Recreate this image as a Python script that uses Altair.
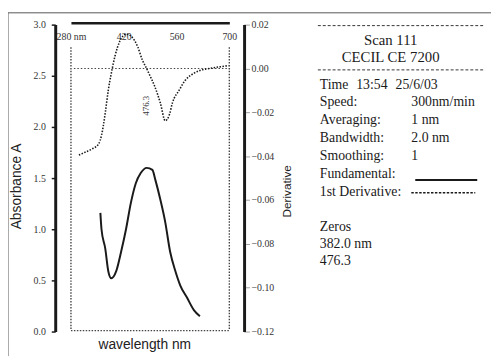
import altair as alt
import pandas as pd

# ---- data ----
wl_ticks = [280, 420, 560, 700]
abs_ticks = [0.0, 0.5, 1.0, 1.5, 2.0, 2.5, 3.0]
der_ticks = [-0.12, -0.10, -0.08, -0.06, -0.04, -0.02, 0.0, 0.02]

abs_nm = [358, 361, 371, 379, 387, 400, 413, 426, 439, 452, 465, 481, 496, 504,
          517, 530, 543, 557, 570, 588, 606, 622]
abs_a = [1.16, 1.00, 0.81, 0.59, 0.52, 0.59, 0.78, 1.00, 1.26, 1.45, 1.55, 1.60,
         1.58, 1.48, 1.29, 1.07, 0.78, 0.59, 0.45, 0.33, 0.21, 0.15]

der_nm = [301, 319, 335, 353, 361, 366, 371, 379, 387, 397, 410, 418, 426, 439,
          457, 470, 478, 489, 502, 517, 530, 541, 549, 567, 583, 606, 622, 648, 698]
der_d = [-0.0395, -0.0381, -0.0368, -0.0345, -0.0305, -0.0260, -0.0202, -0.0099,
         -0.0022, 0.0058, 0.0126, 0.0148, 0.0157, 0.0148, 0.0099, 0.0036, 0.0009,
         -0.0031, -0.0081, -0.0157, -0.0238, -0.0211, -0.0157, -0.0099, -0.0054,
         -0.0022, -0.0009, 0.0000, 0.0013]

peak_label = ["476.3"]
peak_nm = [478]
peak_d = [-0.017]

header_lines = ["Scan 111", "CECIL CE 7200"]
info_labels = ["Time", "Speed:", "Averaging:", "Bandwidth:", "Smoothing:",
               "Fundamental:", "1st Derivative:"]
info_values = ["", "300nm/min", "1 nm", "2.0 nm", "1", "", ""]
time_values = ["13:54", "25/6/03"]
zeros_lines = ["Zeros", "382.0 nm", "476.3"]

SERIF = "Liberation Serif"
SANS = "Liberation Sans"
INK = "#1a1a1a"

abs_df = pd.DataFrame({"nm": abs_nm, "A": abs_a})
der_df = pd.DataFrame({"nm": der_nm, "d": der_d})
peak_df = pd.DataFrame({"nm": peak_nm, "d": peak_d, "t": peak_label})
one = alt.Data(values=[{}])

x_enc = alt.X(
    "nm:Q",
    scale=alt.Scale(domain=[280, 700], nice=False, zero=False),
    axis=alt.Axis(
        orient="top", values=wl_ticks, offset=2, ticks=False, tickSize=0,
        labelPadding=-14, labelBaseline="middle", labelFlush=False, labelOverlap=False,
        labelExpr="datum.value == 280 ? '280 nm' : datum.label",
        labelFont=SERIF, labelFontSize=10, labelColor="#333",
        domainColor=INK, domainWidth=2.5, grid=False, title=None,
    ),
)

abs_scale = alt.Scale(domain=[0, 3], nice=False, zero=False)
der_scale = alt.Scale(domain=[-0.12, 0.02], nice=False, zero=False)

absorb = alt.Chart(abs_df).mark_line(color=INK, strokeWidth=2, interpolate="monotone").encode(
    x=x_enc,
    y=alt.Y("A:Q", scale=abs_scale, axis=alt.Axis(
        orient="left", values=abs_ticks, format=".1f", offset=16,
        domainColor=INK, domainWidth=3, tickColor=INK, tickSize=4, tickWidth=1.5,
        labelFont=SERIF, labelFontSize=10, labelColor="#333", labelPadding=6,
        grid=False, title="Absorbance A", titleFont=SANS, titleFontSize=14,
        titleFontWeight="normal", titleColor="#222", titleAngle=270,
        titleX=-39, titleY=164, titleAlign="center", titleBaseline="middle",
    )),
)

deriv = alt.Chart(der_df).mark_line(color=INK, strokeWidth=1.6, strokeDash=[1.5, 1.5],
                                    interpolate="monotone").encode(
    x=x_enc,
    y=alt.Y("d:Q", scale=der_scale, axis=alt.Axis(
        orient="right", values=der_ticks, format=".2f", offset=15,
        domainColor=INK, domainWidth=3, tickColor="#444", tickSize=6, tickWidth=1,
        tickDash=[1, 1], labelFont=SERIF, labelFontSize=10, labelColor="#333",
        labelPadding=1, grid=False, title="Derivative", titleFont=SANS,
        titleFontSize=12, titleFontWeight="normal", titleColor="#222", titleAngle=270,
        titleX=43, titleY=169, titleAlign="center", titleBaseline="middle",
    )),
)

zero_line = alt.Chart(one).mark_rule(color="#444", strokeWidth=1.2, strokeDash=[1.5, 2]).encode(
    x=alt.value(3), x2=alt.value(161),
    y=alt.YDatum(0, scale=der_scale, axis=None),
)

peak_text = alt.Chart(peak_df).mark_text(
    angle=270, font=SERIF, fontSize=9, color="#333", baseline="middle", align="center"
).encode(
    x=x_enc, y=alt.Y("d:Q", scale=der_scale, axis=None), text="t:N"
)

box_style = dict(color="#444", strokeWidth=1.4, strokeDash=[1.5, 1.5])
box_left = alt.Chart(one).mark_rule(**box_style).encode(
    x=alt.value(0), y=alt.value(23), y2=alt.value(311))
box_right = alt.Chart(one).mark_rule(**box_style).encode(
    x=alt.value(161), y=alt.value(23), y2=alt.value(311))
box_bottom = alt.Chart(one).mark_rule(**box_style).encode(
    x=alt.value(0), x2=alt.value(161), y=alt.value(311))

x_title = alt.Chart(one).mark_text(font=SANS, fontSize=14, color="#222",
                                   align="center", baseline="middle").encode(
    x=alt.value(75), y=alt.value(326), text=alt.value("wavelength nm"))

frame_top = alt.Chart(one).mark_rule(color="#555", strokeWidth=1).encode(
    x=alt.value(-64), x2=alt.value(427), y=alt.value(-12))
frame_left = alt.Chart(one).mark_rule(color="#555", strokeWidth=1).encode(
    x=alt.value(-64), y=alt.value(-12), y2=alt.value(337))

sep_style = dict(color="#333", strokeWidth=1, strokeDash=[3, 2])
sep1 = alt.Chart(one).mark_rule(**sep_style).encode(
    x=alt.value(251), x2=alt.value(421), y=alt.value(1))
sep2 = alt.Chart(one).mark_rule(**sep_style).encode(
    x=alt.value(251), x2=alt.value(421), y=alt.value(46))

header_df = pd.DataFrame({"t": header_lines, "row": range(len(header_lines))})
header = alt.Chart(header_df).mark_text(
    font=SERIF, fontSize=15, color=INK, align="center", baseline="middle"
).encode(
    x=alt.value(325), y=alt.Y("py:Q", scale=None, axis=None), text="t:N"
).transform_calculate(py="16 + datum.row * 17")

info_df = pd.DataFrame({"label": info_labels, "value": info_values,
                        "row": range(len(info_labels))})
txt = dict(font=SERIF, fontSize=14, color=INK, align="left", baseline="middle")
info_lab = alt.Chart(info_df).mark_text(**txt).encode(
    x=alt.value(253), y=alt.Y("py:Q", scale=None, axis=None), text="label:N"
).transform_calculate(py="61 + datum.row * 18.2")
info_val = alt.Chart(info_df).mark_text(**txt).encode(
    x=alt.value(346), y=alt.Y("py:Q", scale=None, axis=None), text="value:N"
).transform_filter("datum.value != ''").transform_calculate(py="61 + datum.row * 18.2")

time_df = pd.DataFrame({"t": time_values, "col": range(len(time_values))})
time_txt = alt.Chart(time_df).mark_text(**txt).encode(
    x=alt.X("px:Q", scale=None, axis=None), y=alt.value(61), text="t:N"
).transform_calculate(px="290 + datum.col * 40")

fund_line = alt.Chart(one).mark_rule(color=INK, strokeWidth=2).encode(
    x=alt.value(350), x2=alt.value(413), y=alt.value(158))
der_line = alt.Chart(one).mark_rule(color=INK, strokeWidth=1.5, strokeDash=[2.5, 1.5]).encode(
    x=alt.value(346), x2=alt.value(411), y=alt.value(171))

zeros_df = pd.DataFrame({"t": zeros_lines, "row": range(len(zeros_lines))})
zeros_txt = alt.Chart(zeros_df).mark_text(**txt).encode(
    x=alt.value(253), y=alt.Y("py:Q", scale=None, axis=None), text="t:N"
).transform_calculate(py="206 + datum.row * 17")

chart = alt.layer(
    frame_top, frame_left, box_left, box_right, box_bottom, zero_line,
    absorb, deriv, peak_text, x_title,
    sep1, sep2, header, info_lab, info_val, time_txt, fund_line, der_line, zeros_txt,
).resolve_scale(y="independent", x="shared").properties(
    width=161, height=312,
    autosize=alt.AutoSizeParams(type="none"),
    padding={"left": 64, "top": 14, "right": 266, "bottom": 25},
    background="white",
).configure_view(stroke=None)

chart.save("out.html", embed_options={"renderer": "svg", "actions": False})
